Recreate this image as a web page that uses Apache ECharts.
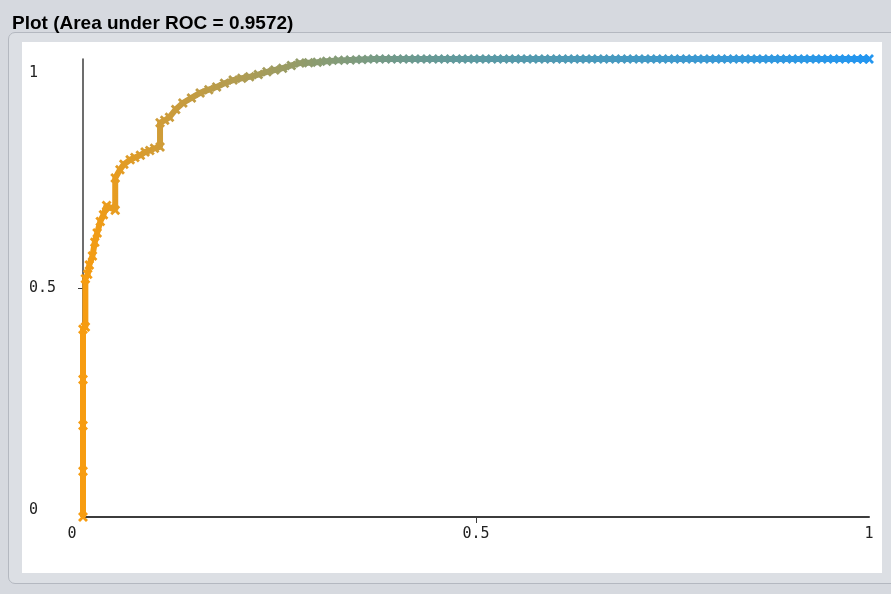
<!DOCTYPE html>
<html>
<head>
<meta charset="utf-8">
<script src="https://cdn.jsdelivr.net/npm/echarts@6/dist/echarts.min.js"></script>
<style>
  html, body { margin: 0; padding: 0; }
  body { width: 891px; height: 594px; background: #d6d9df; position: relative; overflow: hidden; }
  #panel { position: absolute; left: 8px; top: 32px; width: 900px; height: 550px; border: 1px solid #b4b8c0; border-radius: 7px; background: #dcdfe4; }
  #white { position: absolute; left: 22px; top: 42px; width: 860px; height: 531px; background: #ffffff; }
  #chart { position: absolute; left: 0; top: 0; width: 891px; height: 594px; }
</style>
</head>
<body>
<div id="panel"></div>
<div id="white"></div>
<div id="chart"></div>
<script>
// False positive rate (x) and true positive rate (y)
var fpr = [0, 0, 0, 0, 0, 0.003, 0.003, 0.006, 0.008, 0.012, 0.015, 0.018, 0.022, 0.026, 0.030, 0.035, 0.041, 0.041,
  0.047, 0.052, 0.060, 0.066, 0.073, 0.079, 0.085, 0.091, 0.098, 0.098, 0.104, 0.110, 0.118, 0.127, 0.138, 0.149,
  0.160, 0.170, 0.180, 0.191, 0.202, 0.212, 0.223, 0.234, 0.244, 0.254, 0.265, 0.276, 0.287, 0.298, 0.310, 0.325,
  0.340, 0.355, 0.370, 0.385, 0.400, 0.415, 0.430, 0.445, 0.460, 0.475, 0.490, 0.505, 0.520, 0.535, 0.550, 0.565,
  0.580, 0.595, 0.610, 0.625, 0.640, 0.655, 0.670, 0.685, 0.700, 0.715, 0.730, 0.745, 0.760, 0.775, 0.790, 0.805,
  0.820, 0.835, 0.850, 0.865, 0.880, 0.895, 0.910, 0.925, 0.940, 0.955, 0.970, 0.985, 0.993, 1.000];
var tpr = [0, 0.10, 0.20, 0.30, 0.410, 0.415, 0.520, 0.530, 0.550, 0.570, 0.600, 0.620, 0.645, 0.660, 0.680, 0.675, 0.670, 0.740,
  0.758, 0.770, 0.780, 0.785, 0.790, 0.797, 0.800, 0.805, 0.808, 0.861, 0.866, 0.873, 0.890, 0.904, 0.915, 0.926,
  0.933, 0.939, 0.947, 0.954, 0.958, 0.961, 0.966, 0.972, 0.976, 0.980, 0.986, 0.991, 0.992, 0.993, 0.995, 0.997,
  0.998, 0.999, 1, 1, 1, 1, 1, 1, 1, 1, 1, 1, 1, 1, 1, 1,
  1, 1, 1, 1, 1, 1, 1, 1, 1, 1, 1, 1, 1, 1, 1, 1,
  1, 1, 1, 1, 1, 1, 1, 1, 1, 1, 1, 1, 1, 1];
var xTicks = [0, 0.5, 1];
var yTicks = [0, 0.5, 1];
var titleText = 'Plot (Area under ROC = 0.9572)';

var points = fpr.map(function (x, i) { return [x, tpr[i]]; });
var crossPath = 'path://M0,2L2,0L5,3L8,0L10,2L7,5L10,8L8,10L5,7L2,10L0,8L3,5Z';
var monoFont = 'DejaVu Sans Mono';

var chart = echarts.init(document.getElementById('chart'), null, { renderer: 'canvas' });
chart.setOption({
  backgroundColor: 'transparent',
  animation: false,
  title: {
    text: titleText, left: 7, top: 9,
    textStyle: { fontFamily: 'Liberation Sans', fontSize: 19, fontWeight: 'bold', color: '#000' }
  },
  grid: { left: 83, right: 22, top: 59, bottom: 77, containLabel: false },
  xAxis: {
    type: 'value', min: 0, max: 1, interval: 0.5,
    splitLine: { show: false },
    axisLine: { show: true, lineStyle: { color: '#3c3c3c', width: 2 } },
    axisTick: { show: true, customValues: [0.5], length: 6, lineStyle: { color: '#3c3c3c', width: 1 } },
    axisLabel: {
      customValues: xTicks, margin: 10, color: '#222', fontFamily: monoFont, fontSize: 15,
      formatter: function (v) { return v === 0 ? '{l|0}' : (v === 0.5 ? '0.5' : String(v)); },
      rich: { l: { padding: [0, 22, 0, 0], fontFamily: monoFont, fontSize: 15, color: '#222' } }
    },
    z: 1
  },
  yAxis: {
    type: 'value', min: 0, max: 1, interval: 0.5,
    splitLine: { show: false },
    axisLine: { show: true, onZero: false, lineStyle: { color: '#3c3c3c', width: 1.5 } },
    axisTick: { show: true, customValues: [0.5], length: 5, lineStyle: { color: '#3c3c3c', width: 1 } },
    axisLabel: {
      customValues: yTicks, margin: 54, align: 'left', color: '#222', fontFamily: monoFont, fontSize: 15,
      formatter: function (v) { return v === 1 ? '{t|1}' : (v === 0 ? '{b|0}' : '0.5'); },
      rich: {
        t: { padding: [28, 0, 0, 0], fontFamily: monoFont, fontSize: 15, color: '#222' },
        b: { padding: [0, 0, 14, 0], fontFamily: monoFont, fontSize: 15, color: '#222' }
      }
    },
    z: 1
  },
  visualMap: {
    show: false, type: 'continuous', dimension: 0, min: 0, max: 1, seriesIndex: 0,
    inRange: { color: ['#f79c10', '#cf9c38', '#b09c52', '#8a9c72', '#709a8c', '#5c9aa2', '#509ab4', '#449ac4', '#3a99d4', '#2e98e2', '#2396f0'] }
  },
  series: [{
    type: 'line',
    data: points,
    symbol: crossPath,
    symbolSize: 10,
    showSymbol: true,
    lineStyle: { width: 6 },
    z: 3
  }]
});
</script>
</body>
</html>
